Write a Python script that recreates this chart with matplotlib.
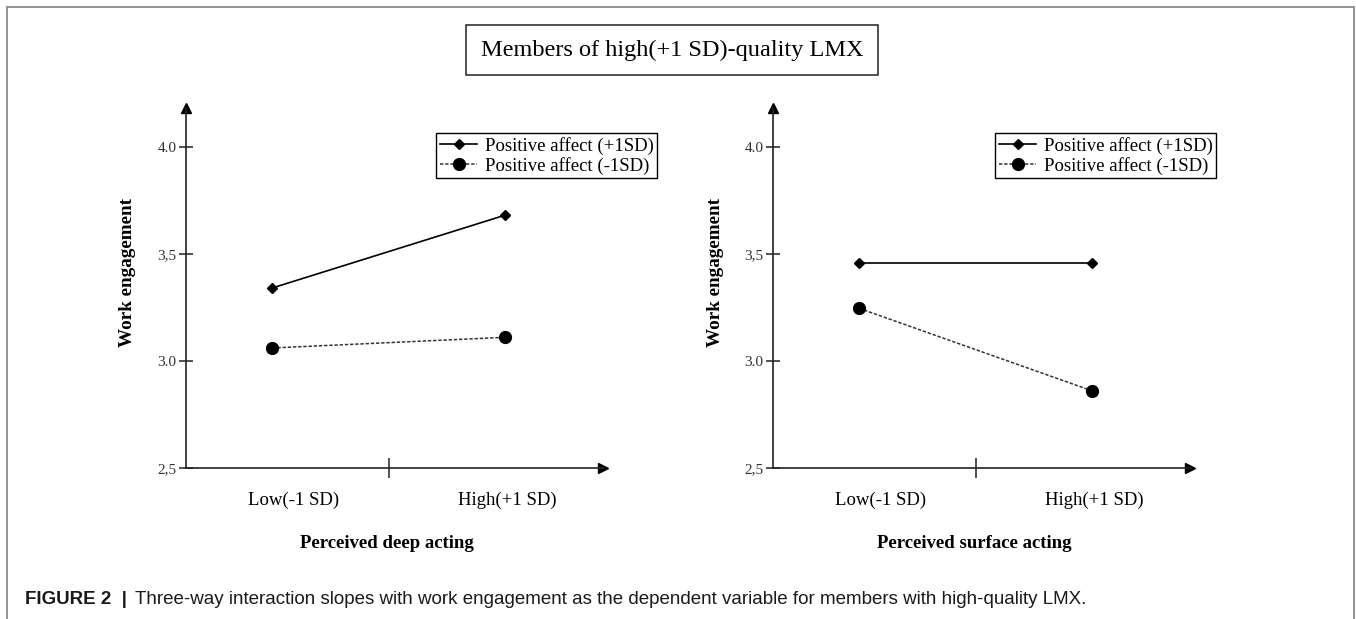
import matplotlib
matplotlib.use("Agg")
import matplotlib.pyplot as plt
from matplotlib.patches import Rectangle

# data
categories = ["Low(-1 SD)", "High(+1 SD)"]
series_names = ["Positive affect (+1SD)", "Positive affect (-1SD)"]
deep_high = [3.34, 3.68]
deep_low = [3.06, 3.11]
surface_high = [3.455, 3.455]
surface_low = [3.245, 2.86]
yticks = [2.5, 3.0, 3.5, 4.0]
ytick_labels = ["2,5", "3.0", "3,5", "4.0"]
panel_titles = ["Perceived deep acting", "Perceived surface acting"]

W, H = 1356, 619
SERIF = "Liberation Serif"
SANS = "Liberation Sans"

fig = plt.figure(figsize=(W / 100, H / 100), dpi=100)


def fx(x):
    return x / W


def fy(y):
    return 1 - y / H


# grey frame around the figure
fig.add_artist(Rectangle((fx(7), -0.05), fx(1354) - fx(7), fy(7) + 0.05,
                         transform=fig.transFigure, fill=False,
                         edgecolor="#8a8a8a", linewidth=1.3))

fig.text(fx(672), fy(50), "Members of high(+1 SD)-quality LMX",
         family=SERIF, fontsize=17.5, ha="center", va="center",
         bbox=dict(boxstyle="square,pad=0.6", facecolor="white",
                   edgecolor="#222222", linewidth=1.1))

panels = [
    (186, [deep_high, deep_low], panel_titles[0], 436),
    (773, [surface_high, surface_low], panel_titles[1], 995),
]

xs = list(range(len(categories)))
label_x = [0.09, 1.01]  # category label centres (data units)

for left, (hi, lo), title, leg_x in panels:
    ax = fig.add_axes([fx(left), fy(468), 417 / W, 360 / H])
    l1, = ax.plot(xs, hi, color="black", linewidth=1.2, marker="D",
                  markersize=5.5, label=series_names[0])
    l2, = ax.plot(xs, lo, color="#333333", linewidth=1.1,
                  linestyle=(0, (2.2, 1.2)), marker="o", markersize=8.5,
                  markerfacecolor="black", markeredgecolor="black",
                  label=series_names[1])
    ax.set_xlim(-0.37, 1.42)
    ax.set_ylim(2.5, 4.18)

    for s in ["top", "right"]:
        ax.spines[s].set_visible(False)
    for s in ["left", "bottom"]:
        ax.spines[s].set_linewidth(1.2)
        ax.spines[s].set_color("#222222")

    # arrow heads on the axes
    ax.plot(1, 0, marker=">", color="black", markersize=7,
            transform=ax.transAxes, clip_on=False)
    ax.plot(0, 1, marker="^", color="black", markersize=7,
            transform=ax.transAxes, clip_on=False)

    ax.set_yticks(yticks)
    ax.set_yticklabels(ytick_labels, family=SERIF, fontsize=11,
                       color="#333333")
    ax.tick_params(axis="y", direction="inout", length=10, width=1.1,
                   pad=2, color="#222222")
    ax.set_xticks([0.5])
    ax.set_xticklabels([""])
    ax.tick_params(axis="x", direction="inout", length=15, width=1.1,
                   color="#222222")

    for xv, lab in zip(label_x, categories):
        ax.annotate(lab, xy=(xv, 0), xycoords=("data", "axes fraction"),
                    xytext=(0, -23), textcoords="offset points",
                    family=SERIF, fontsize=13.5, ha="center", va="center",
                    annotation_clip=False)

    fig.text(fx(left + 201), fy(543), title, family=SERIF, fontsize=13.5,
             fontweight="bold", ha="center", va="center")
    fig.text(fx(left - 58), fy(272), "Work engagement", family=SERIF,
             fontsize=13.8, fontweight="bold", rotation=90,
             ha="center", va="center")

    ax.legend(handles=[l1, l2], loc="upper left",
              bbox_to_anchor=(fx(leg_x), fy(133)),
              bbox_transform=fig.transFigure, borderaxespad=0,
              prop=dict(family=SERIF, size=13.5), fancybox=False,
              framealpha=1, edgecolor="black", borderpad=0.2,
              labelspacing=0.1, handletextpad=0.4, handlelength=2.0)

fig.canvas.draw()
r = fig.canvas.get_renderer()
t1 = fig.text(fx(25), fy(599), "FIGURE 2  |", family=SANS, fontsize=13.5,
              fontweight="bold", ha="left", va="center", color="#1a1a1a")
bb = t1.get_window_extent(renderer=r)
fig.text(bb.x1 / W + fx(8),
         fy(599),
         "Three-way interaction slopes with work engagement as the dependent "
         "variable for members with high-quality LMX.",
         family=SANS, fontsize=13.5, ha="left", va="center", color="#1a1a1a")

fig.savefig("out.png", dpi=100)
